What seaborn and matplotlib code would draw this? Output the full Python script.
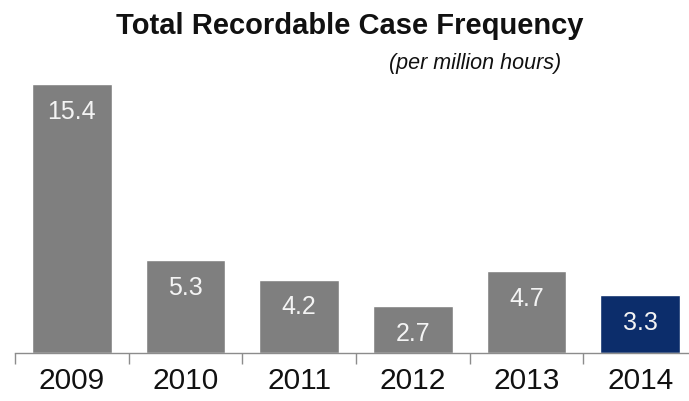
import matplotlib
matplotlib.use("Agg")
import matplotlib.pyplot as plt
import seaborn as sns
import pandas as pd
from matplotlib.ticker import FixedLocator

years = ["2009", "2010", "2011", "2012", "2013", "2014"]
values = [15.4, 5.3, 4.2, 2.7, 4.7, 3.3]
colors = ["#7f7f7f", "#7f7f7f", "#7f7f7f", "#7f7f7f", "#7f7f7f", "#0c2d6b"]
title = "Total Recordable Case Frequency"
subtitle = "(per million hours)"

sns.set_theme(style="white")
plt.rcParams["font.family"] = ["Liberation Sans", "DejaVu Sans"]

df = pd.DataFrame({"year": years, "value": values})

fig = plt.figure(figsize=(6.89, 4.01), dpi=100)
ax = fig.add_axes([15 / 689, 48 / 401, 682 / 689, 279.5 / 401])
sns.barplot(data=df, x="year", y="value", hue="year", palette=colors,
            legend=False, width=0.70, saturation=1, ax=ax)

ax.set_ylim(0, 16)
ax.set_xlim(-0.5, 5.5)
ax.set_xlabel("")
ax.set_ylabel("")
ax.set_yticks([])
for s in ["top", "right", "left"]:
    ax.spines[s].set_visible(False)
ax.spines["bottom"].set_color("#8c8c8c")
ax.spines["bottom"].set_linewidth(1.0)
ax.tick_params(axis="x", which="major", length=0, labelsize=21.5, pad=10,
               labelcolor="#111111")
ax.xaxis.set_minor_locator(FixedLocator([i - 0.5 for i in range(len(years) + 1)]))
ax.tick_params(axis="x", which="minor", length=8, width=1.0, color="#8c8c8c",
               direction="out", bottom=True)

for i, v in enumerate(values):
    ax.annotate(f"{v}", xy=(i, v), xytext=(0, -20), textcoords="offset points",
                ha="center", va="center", color="#f4f4f4", fontsize=18)

fig.text(350 / 689, 1 - 26 / 401, title, ha="center", va="center",
         fontsize=21, fontweight="bold", color="#111111")
fig.text(475 / 689, 1 - 63 / 401, subtitle, ha="center", va="center",
         fontsize=15.5, fontstyle="italic", color="#111111")

fig.savefig("out.png", dpi=100)
